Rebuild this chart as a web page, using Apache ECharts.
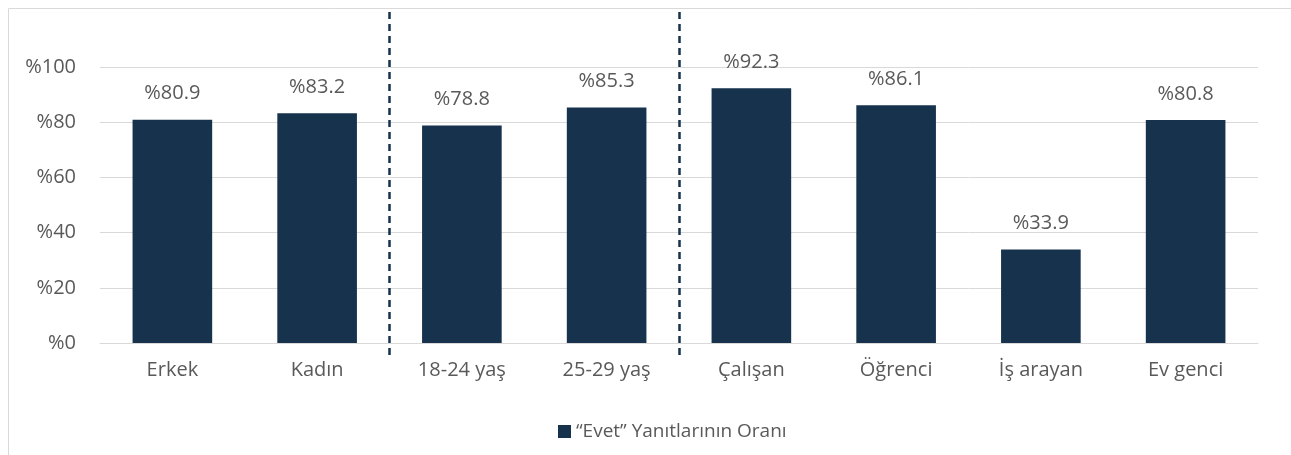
<!DOCTYPE html>
<html><head><meta charset="utf-8">
<script src="https://cdn.jsdelivr.net/npm/echarts@6/dist/echarts.min.js"></script>
<style>html,body{margin:0;padding:0;background:#fff}#c{width:1291px;height:455px}</style>
</head><body><div id="c"></div>
<script>
const categories = ['Erkek','Kadın','18-24 yaş','25-29 yaş','Çalışan','Öğrenci','İş arayan','Ev genci'];
const values = [80.9, 83.2, 78.8, 85.3, 92.3, 86.1, 33.9, 80.8];
const seriesName = '“Evet” Yanıtlarının Oranı';
const groupBoundaries = [2, 4];

const chart = echarts.init(document.getElementById('c'));
const font = '"Open Sans", sans-serif';
chart.setOption({
  animation: false,
  graphic: [{type:'rect', left:6, top:6, shape:{width:1283, height:470}, style:{fill:'none', stroke:'#d9d9d9', lineWidth:1}, silent:true}],
  grid: [{left:100, right:33, top:67, bottom:112, containLabel:false},
         {left:100, right:33, top:10, bottom:100, containLabel:false}],
  legend: {data:[seriesName], left:553, top:417, icon:'rect', itemWidth:13, itemHeight:13, itemGap:6,
    textStyle:{color:'#595959', fontSize:19, fontFamily:font}},
  xAxis: [{type:'category', data:categories, gridIndex:0, axisTick:{show:false},
      axisLine:{lineStyle:{color:'#d9d9d9', width:1}},
      axisLabel:{color:'#595959', fontSize:20, fontFamily:font, margin:17}},
    {type:'value', gridIndex:1, min:0, max:categories.length, show:false}],
  yAxis: [{type:'value', gridIndex:0, min:0, max:100, interval:20,
    axisLabel:{formatter:'%{value}', color:'#595959', fontSize:20, fontFamily:font, margin:24},
    axisLine:{show:false}, axisTick:{show:false},
    splitLine:{lineStyle:{color:'#d9d9d9', width:1}}},
    {type:'value', gridIndex:1, min:0, max:1, show:false}],
  series: [
    {name:seriesName, type:'bar', data:values, barWidth:'55%', itemStyle:{color:'#17324d'},
     label:{show:true, position:'top', distance:16, color:'#595959', fontSize:20, fontFamily:font,
       formatter:p => '%' + p.value.toFixed(1)}},
    {type:'line', xAxisIndex:1, yAxisIndex:1, data:[], silent:true,
     markLine:{symbol:'none', silent:true, label:{show:false},
       lineStyle:{color:'#17324d', type:[7,5], width:2.5},
       data: groupBoundaries.map(b => [{coord:[b, 0]}, {coord:[b, 1]}])}}
  ]
});
</script></body></html>
